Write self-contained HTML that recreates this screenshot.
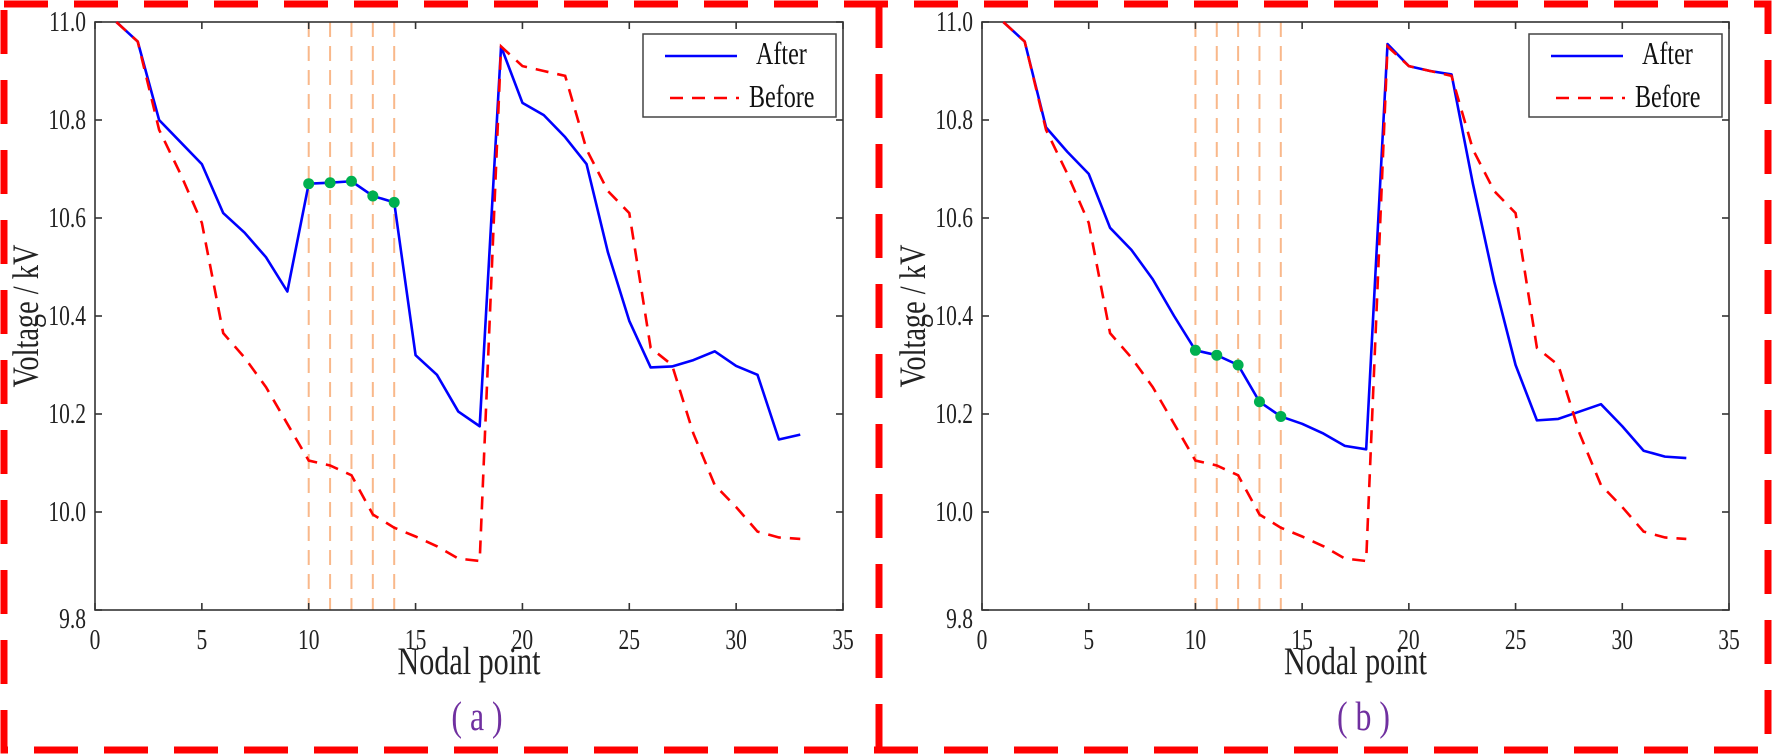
<!DOCTYPE html>
<html><head><meta charset="utf-8"><style>
html,body{margin:0;padding:0;background:#fff;}
svg{display:block;font-family:"Liberation Serif",serif;}
</style></head><body>
<svg id="chart" width="1772" height="755" viewBox="0 0 1772 755" xmlns="http://www.w3.org/2000/svg">
<g id="frame" fill="none" stroke="#ff0000" stroke-width="7" stroke-dasharray="44 26">
<rect x="4" y="4" width="1764" height="746"/>
<line x1="879" y1="4" x2="879" y2="750"/>
</g>
</svg>
<script>
const nodes = [1,2,3,4,5,6,7,8,9,10,11,12,13,14,15,16,17,18,19,20,21,22,23,24,25,26,27,28,29,30,31,32,33];
const afterA = [11.0,10.96,10.80,10.755,10.71,10.61,10.57,10.52,10.45,10.67,10.672,10.675,10.645,10.632,10.32,10.28,10.205,10.175,10.95,10.835,10.81,10.765,10.71,10.53,10.39,10.295,10.297,10.31,10.328,10.298,10.28,10.148,10.158];
const beforeVals = [11.0,10.96,10.78,10.69,10.59,10.365,10.315,10.255,10.18,10.105,10.095,10.075,9.995,9.968,9.95,9.93,9.905,9.9,10.95,10.91,10.9,10.89,10.74,10.655,10.61,10.335,10.3,10.16,10.055,10.01,9.96,9.948,9.945];
const afterB = [11.0,10.96,10.785,10.735,10.69,10.58,10.535,10.475,10.40,10.33,10.32,10.30,10.225,10.195,10.18,10.16,10.135,10.128,10.955,10.91,10.9,10.893,10.67,10.47,10.30,10.187,10.19,10.205,10.22,10.175,10.125,10.113,10.11];
const markedNodes = [10,11,12,13,14];
const xTicks = [0,5,10,15,20,25,30,35];
const yTicks = [9.8,10.0,10.2,10.4,10.6,10.8,11.0];
const panelLabels = ['( a )','( b )'];

const NS='http://www.w3.org/2000/svg';
const svg=document.getElementById('chart');
function mk(tag,attrs,parent){const e=document.createElementNS(NS,tag);for(const k in attrs)e.setAttribute(k,attrs[k]);(parent||svg).appendChild(e);return e;}
function txt(parent,x,y,size,anchor,fill,str,extra){
  const t=mk('text',{x:0,y:0,'font-size':size,'text-anchor':anchor,fill:fill,transform:'translate('+x+','+y+')'+(extra||'')+' scale(0.86,1.12)'},parent);
  t.textContent=str;return t;
}

function panel(left, right, after, label, id){
  const top=22,bottom=610;
  const xs=v=>left+(v-0)/(35-0)*(right-left);
  const ys=v=>bottom-(v-9.8)/(11.0-9.8)*(bottom-top);
  const g=mk('g',{});
  
  
  markedNodes.forEach(n=>{
    const l=mk('line',{x1:xs(n),x2:xs(n),y1:top,y2:bottom,stroke:'#f9b88a','stroke-width':2,'stroke-dasharray':'15 9'},g);
    
    
  });
  const box=mk('rect',{x:left,y:top,width:right-left,height:bottom-top,fill:'none',stroke:'#333','stroke-width':1.6},g);
  
  
  xTicks.forEach(t=>{
    mk('line',{x1:xs(t),x2:xs(t),y1:bottom,y2:bottom-7,stroke:'#333','stroke-width':1.6},g);
    mk('line',{x1:xs(t),x2:xs(t),y1:top,y2:top+7,stroke:'#333','stroke-width':1.6},g);
    const tx=txt(g,xs(t),bottom+39,25,'middle','#222',String(t));
    
    
  });
  yTicks.forEach(t=>{
    mk('line',{x1:left,x2:left+7,y1:ys(t),y2:ys(t),stroke:'#333','stroke-width':1.6},g);
    mk('line',{x1:right,x2:right-7,y1:ys(t),y2:ys(t),stroke:'#333','stroke-width':1.6},g);
    const ty=txt(g,left-9,ys(t)+(t===9.8?18:9),25,'end','#222',t.toFixed(1));
    
    
  });
  const pts=a=>a.map((v,i)=>xs(nodes[i])+','+ys(v)).join(' ');
  const bl=mk('polyline',{points:pts(after),fill:'none',stroke:'#0000ff','stroke-width':2.6,'stroke-linejoin':'round'},g);
  
  
  const rl=mk('polyline',{points:pts(beforeVals),fill:'none',stroke:'#ff0000','stroke-width':2.6,'stroke-dasharray':'13 9'},g);
  
  
  markedNodes.forEach(n=>{
    const i=nodes.indexOf(n);
    const c=mk('circle',{cx:xs(n),cy:ys(after[i]),r:5.5,fill:'#00b050'},g);
    
    
  });
  const lg=mk('g',{},g);
  
  
  const lx=right-200;
  mk('rect',{x:lx,y:34,width:193,height:83,fill:'#fff',stroke:'#444','stroke-width':1.5},lg);
  mk('line',{x1:lx+22,x2:lx+94,y1:56,y2:56,stroke:'#0000ff','stroke-width':2.6},lg);
  const t1=txt(lg,lx+113,64,28,'start','#111','After');
  
  
  mk('line',{x1:lx+27,x2:lx+96,y1:98,y2:98,stroke:'#ff0000','stroke-width':2.6,'stroke-dasharray':'13 9'},lg);
  const t2=txt(lg,lx+106,107,28,'start','#111','Before');
  
  
  const xl=txt(g,(left+right)/2,674,35,'middle','#222','Nodal point');
  
  
  const yl=txt(g,left-57,(top+bottom)/2,33,'middle','#222','Voltage / kV',' rotate(-90)');
  
  
  const pl=txt(g,(left+right)/2+8,730,37,'middle','#7030a0',label);
  
  
}
panel(95,843,afterA,panelLabels[0],'a');
panel(982,1729,afterB,panelLabels[1],'b');
</script>
</body></html>
